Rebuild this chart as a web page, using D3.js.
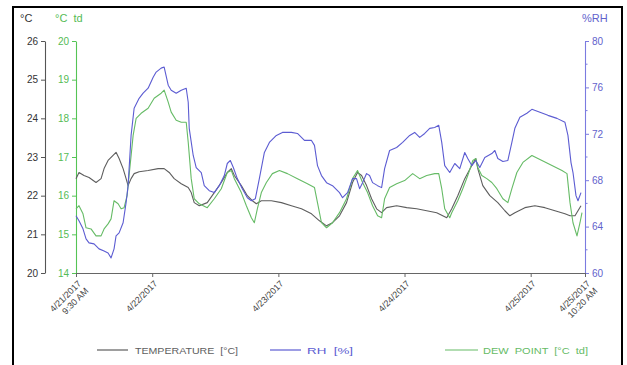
<!DOCTYPE html>
<html><head><meta charset="utf-8">
<script src="https://cdn.jsdelivr.net/npm/d3@7"></script>
<style>body{margin:0;background:#fff;} text{font-family:"Liberation Sans",Arial,sans-serif;}</style>
</head><body><svg id="c" width="627" height="365"></svg>
<script>
const startTime = new Date(2017,3,21,9,30);
const endTime = new Date(2017,3,25,10,20);

const tempHours = [0,0.57,1.52,2.48,3.81,4.77,5.34,6.10,7.05,7.62,8.20,8.96,9.53,9.91,10.48,11.06,12.01,13.72,15.63,16.77,17.73,18.68,20.02,21.35,21.92,22.49,23.45,24.97,26.31,27.64,28.78,29.55,30.12,31.45,32.60,33.55,34.31,35.26,37.17,39.08,40.98,42.89,44.80,46.32,47.66,48.80,50.13,51.47,52.61,53.56,54.33,55.28,56.23,57.19,58.14,59.09,61.00,62.91,64.81,66.72,68.62,69.77,70.53,71.48,72.63,73.96,75.30,76.06,76.44,77.39,78.73,80.25,81.59,82.54,83.49,85.40,87.30,89.21,91.12,93.02,93.98,94.93,95.50,96.07];
const tempValues = [22.44,22.60,22.52,22.47,22.34,22.44,22.70,22.91,23.04,23.12,22.96,22.70,22.44,22.26,22.44,22.57,22.62,22.65,22.70,22.70,22.60,22.44,22.31,22.21,22.08,21.82,21.74,21.82,22.08,22.34,22.60,22.70,22.52,22.26,22.00,21.87,21.79,21.87,21.87,21.82,21.74,21.66,21.53,21.35,21.22,21.30,21.48,21.82,22.34,22.60,22.52,22.26,21.92,21.66,21.56,21.69,21.74,21.69,21.66,21.61,21.56,21.48,21.43,21.66,22.00,22.44,22.78,22.96,22.70,22.26,22.00,21.82,21.61,21.48,21.56,21.69,21.74,21.69,21.61,21.53,21.48,21.48,21.61,21.74];

const rhHours = [0,0.57,1.33,1.91,2.48,3.43,4.38,5.34,6.10,6.67,7.24,7.62,8.20,8.96,9.53,9.91,10.48,11.06,12.01,12.77,13.72,14.68,15.25,16.20,16.77,17.54,18.11,19.06,20.02,20.97,21.35,21.54,22.30,22.87,23.83,24.40,25.35,26.31,27.26,28.21,28.78,29.36,29.93,30.69,31.64,32.60,33.36,34.12,34.88,35.84,36.79,38.12,39.27,40.98,42.13,43.46,44.80,45.37,45.94,46.70,47.66,48.80,50.13,50.71,51.66,52.61,53.37,53.95,54.52,55.28,55.85,56.42,57.38,58.14,58.71,59.66,61.00,62.14,63.48,64.43,65.38,66.34,67.29,68.24,69.01,69.58,70.15,71.10,72.06,73.01,73.96,74.53,75.30,76.06,76.82,77.77,79.11,79.68,80.25,81.21,82.16,82.92,83.49,84.45,85.78,86.73,88.26,89.78,91.50,93.02,93.59,94.17,94.55,95.12,95.50,96.07];
const rhValues = [64.94,64.50,63.81,62.94,62.60,62.51,62.08,61.90,61.73,61.30,62.08,63.20,63.46,64.33,66.06,67.53,71.86,74.20,75.06,75.50,75.93,76.88,77.32,77.66,77.75,76.19,75.76,75.50,75.76,75.93,74.72,72.47,70.13,69.09,68.66,67.53,67.10,66.93,67.53,68.40,69.44,69.70,69.09,68.14,67.27,66.49,66.23,66.41,68.14,70.39,71.26,71.86,72.12,72.12,72.03,71.43,71.43,71.00,69.26,68.40,67.79,67.53,66.93,66.49,66.93,68.14,68.14,67.27,67.79,68.57,68.40,67.79,67.53,67.36,69.00,70.56,70.82,71.26,71.86,72.12,71.69,72.03,72.47,72.55,72.73,71.26,69.26,68.66,69.44,69.00,70.39,69.87,69.26,69.70,69.09,69.96,70.30,70.56,69.87,69.61,69.70,71.26,72.47,73.42,73.77,74.11,73.85,73.59,73.33,72.99,71.86,69.52,68.66,66.67,66.23,66.93];

const dewHours = [0,0.57,1.33,1.91,2.86,3.81,4.77,5.34,6.10,6.67,7.24,8.01,8.58,9.15,9.72,10.10,10.87,11.44,12.39,13.72,14.87,16.20,16.77,17.54,18.11,19.06,20.02,20.97,21.35,21.92,22.49,23.45,24.97,26.31,27.64,28.78,29.55,30.12,31.45,32.41,33.36,33.93,34.50,35.26,36.22,37.36,38.70,40.22,42.13,44.03,45.37,45.94,46.70,47.66,48.80,50.13,51.47,52.61,53.56,54.52,55.47,56.42,57.38,58.14,58.71,59.66,61.00,62.52,64.05,65.38,66.72,68.24,69.01,69.58,70.15,71.10,71.48,72.63,73.58,74.53,75.49,76.06,76.44,77.20,78.15,79.11,80.06,81.21,82.16,82.92,83.87,85.02,86.73,88.64,90.55,92.45,93.41,93.98,94.55,95.31,95.88,96.26];
const dewValues = [15.66,15.74,15.53,15.17,15.14,14.96,14.96,15.14,15.27,15.40,15.87,15.79,15.66,15.69,16.00,16.52,17.56,18.00,18.13,18.26,18.52,18.65,18.73,18.42,18.16,17.95,17.90,17.90,17.38,16.44,15.92,15.79,15.69,15.92,16.18,16.60,16.65,16.44,16.08,15.74,15.43,15.30,15.66,16.08,16.34,16.57,16.65,16.57,16.44,16.31,16.21,15.82,15.30,15.17,15.30,15.56,15.92,16.44,16.65,16.34,16.08,15.74,15.48,15.43,15.92,16.21,16.31,16.39,16.57,16.44,16.52,16.57,16.57,16.18,15.66,15.43,15.56,15.87,16.18,16.52,16.91,16.96,16.73,16.52,16.44,16.34,16.18,15.92,15.82,16.18,16.60,16.86,17.04,16.91,16.78,16.65,16.57,15.82,15.30,14.96,15.30,15.56];

const tempTicks = [20,21,22,23,24,25,26];
const dewTicks = [14,15,16,17,18,19,20];
const rhTicks = [60,64,68,72,76,80];
const rhMinorTicks = [62,66,70,74,78];
const xTickDates = [startTime, new Date(2017,3,22), new Date(2017,3,23), new Date(2017,3,24), new Date(2017,3,25), endTime];
const xTickLabels = [["4/21/2017","9:30 AM"],["4/22/2017"],["4/23/2017"],["4/24/2017"],["4/25/2017"],["4/25/2017","10:20 AM"]];
const legendLabels = ["TEMPERATURE  [°C]", "RH  [%]", "DEW  POINT  [°C  td]"];

const colTemp = "#5e5e5e", colRH = "#5c5cd2", colDew = "#66bb66";

const svg = d3.select("#c");
svg.append("rect").attr("x",13).attr("y",7).attr("width",609).attr("height",375)
  .attr("fill","none").attr("stroke","#000").attr("stroke-width",2);

const plotTop = 41, plotBottom = 273, plotLeft = 76, plotRight = 585;
const x = d3.scaleTime().domain([startTime,endTime]).range([plotLeft,plotRight]);
const yT = d3.scaleLinear().domain([20,26]).range([plotBottom,plotTop]);
const yD = d3.scaleLinear().domain([14,20]).range([plotBottom,plotTop]);
const yR = d3.scaleLinear().domain([60,80]).range([plotBottom,plotTop]);
const toDate = h => new Date(startTime.getTime() + h*3600e3);
const fmt = d3.format("d");

function styleAxis(g, lineCol, textCol){
  g.select(".domain").attr("stroke",lineCol).attr("stroke-width",1.1);
  g.selectAll(".tick line").attr("stroke",lineCol);
  g.selectAll(".tick text").attr("fill",textCol).style("font-size","10px");
}

const gT = svg.append("g").attr("transform","translate(45,0)")
  .call(d3.axisLeft(yT).tickValues(tempTicks).tickFormat(fmt).tickSize(4).tickSizeOuter(0).tickPadding(3));
styleAxis(gT, "#555", "#333");
const gD = svg.append("g").attr("transform",`translate(${plotLeft},0)`)
  .call(d3.axisLeft(yD).tickValues(dewTicks).tickFormat(fmt).tickSize(4).tickSizeOuter(0).tickPadding(3));
styleAxis(gD, "#55c455", "#55bb55");
const gR = svg.append("g").attr("transform",`translate(${plotRight},0)`)
  .call(d3.axisRight(yR).tickValues(rhTicks).tickFormat(fmt).tickSize(4).tickSizeOuter(0).tickPadding(3));
styleAxis(gR, "#7b7be0", "#6262cc");
gR.selectAll(".minor").data(rhMinorTicks).enter().append("line")
  .attr("x1",0).attr("x2",2.5).attr("y1",d=>yR(d)).attr("y2",d=>yR(d)).attr("stroke","#7b7be0");

const gX = svg.append("g").attr("transform",`translate(0,${plotBottom})`)
  .call(d3.axisBottom(x).tickValues(xTickDates).tickSize(4).tickSizeOuter(0).tickFormat(""));
gX.select(".domain").attr("stroke","#666").attr("stroke-width",1.1);
gX.selectAll(".tick line").attr("stroke","#666");
gX.selectAll(".tick").each(function(d,i){
  const t = d3.select(this).append("text")
    .attr("transform","translate(3,9) rotate(-45)")
    .attr("text-anchor","end").attr("fill","#444").style("font-size","9px");
  xTickLabels[i].forEach((s,j)=>{
    t.append("tspan").attr("x",0).attr("dy", j===0 ? "0.35em" : "1.15em").text(s);
  });
});

svg.append("text").attr("x",20).attr("y",22).attr("fill","#333").style("font-size","11px").text("°C");
svg.append("text").attr("x",55).attr("y",22).attr("fill","#55bb55").style("font-size","11px")
  .attr("xml:space","preserve").text("°C  td");
svg.append("text").attr("x",582).attr("y",22).attr("fill","#6262cc").style("font-size","11px").text("%RH");

function draw(hours, vals, y, col){
  const data = d3.zip(hours, vals);
  svg.append("path").datum(data)
    .attr("fill","none").attr("stroke",col).attr("stroke-width",1.1).attr("stroke-linejoin","round")
    .attr("d", d3.line().x(d=>x(toDate(d[0]))).y(d=>y(d[1])));
}
draw(tempHours, tempValues, yT, colTemp);
draw(dewHours, dewValues, yD, colDew);
draw(rhHours, rhValues, yR, colRH);

const legendItems = [
  {label:legendLabels[0], col:colTemp, x0:97, x1:128, tx:135, tw:103},
  {label:legendLabels[1], col:colRH, x0:270, x1:301, tx:307, tw:46},
  {label:legendLabels[2], col:colDew, x0:445, x1:478, tx:483, tw:105}
];
const lg = svg.append("g");
legendItems.forEach(it=>{
  lg.append("line").attr("x1",it.x0).attr("x2",it.x1).attr("y1",350).attr("y2",350)
    .attr("stroke",it.col).attr("stroke-width",1.2);
  lg.append("text").attr("x",it.tx).attr("y",353.5).attr("fill",it.col)
    .attr("xml:space","preserve").style("font-size","9px")
    .attr("textLength",it.tw).attr("lengthAdjust","spacingAndGlyphs").text(it.label);
});
</script></body></html>
